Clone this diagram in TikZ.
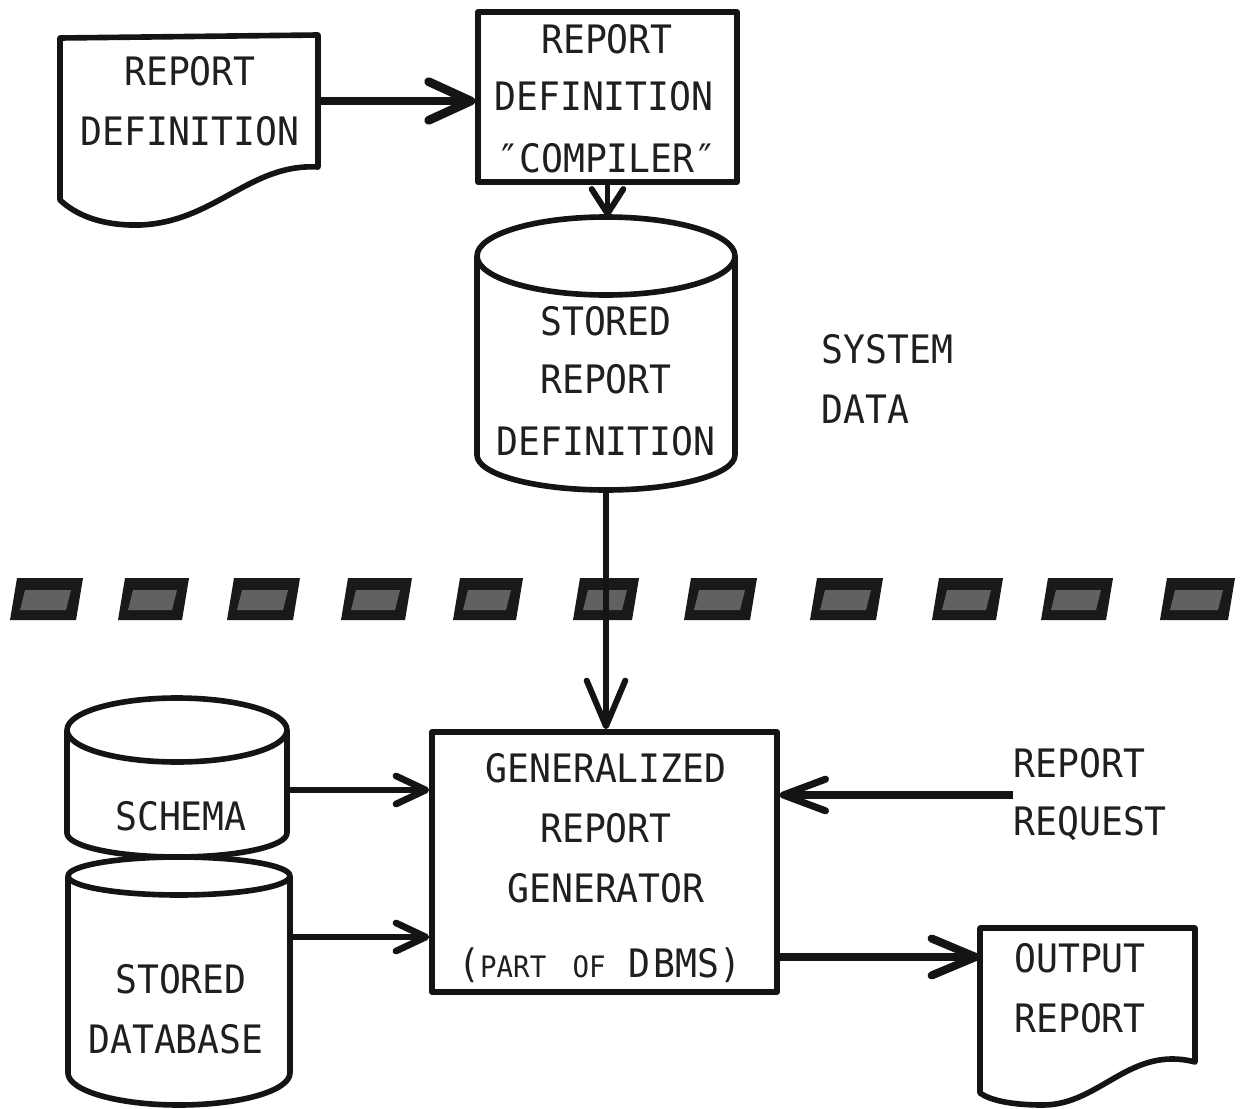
\documentclass[tikz,border=0pt]{standalone}
\usepackage{fontspec}
\usetikzlibrary{arrows.meta,fit}
\newfontfamily\twfont{DejaVu Sans Mono}[FakeStretch=0.93]
\newcommand\lblfont{\twfont\fontsize{22.3pt}{33pt}\selectfont}
\newcommand\smfont{\twfont\fontsize{16.8pt}{20pt}\selectfont}
\begin{document}
\begin{tikzpicture}[x=0.02cm,y=-0.02cm,
  shp/.style={line width=3.2pt, line join=round, draw=black!92},
  lbl/.style={font=\lblfont, text=black!88, inner sep=0, anchor=base},
  lblw/.style={font=\lblfont, text=black!88, inner sep=0, anchor=base west},
  box/.style={inner sep=0},
  conn/.style={draw=black!92, line width=#1},
  dashblk/.style={fill=black!90},
  dashin/.style={fill=black!62}
]
\useasboundingbox (0,0) rectangle (1252,1109);
\fill[white] (0,0) rectangle (1252,1109);

% report definition (document)
\draw[shp] (60,200) -- (60,38) -- (318,35) -- (318,167)
  .. controls (250,163) and (215,222) .. (140,225)
  .. controls (100,226) and (75,214) .. (60,200) -- cycle;
\node[box, fit={(60,35) (318,167)}] (rd) {};
\node[lbl] (rdA) at (190,85) {REPORT};
\node[lbl] (rdB) at (190,145) {DEFINITION};

% compiler box
\node[shp, draw, fit={(478,12) (737,182)}, inner sep=0] (comp) {};
\node[lbl] (compA) at (607,53) {REPORT};
\node[lbl] (compB) at (604,110) {DEFINITION};
\node[lbl] (compC) at (607,172) {″COMPILER″};

% stored report definition (cylinder)
\draw[shp] (606,256) ellipse [x radius=2.58cm, y radius=0.78cm];
\draw[shp] (477,256) -- (477,455) arc [start angle=180, end angle=360, x radius=2.58cm, y radius=0.70cm] -- (735,256);
\node[box, fit={(477,217) (735,490)}] (srd) {};
\node[lbl] (srdA) at (606,335) {STORED};
\node[lbl] (srdB) at (606,393) {REPORT};
\node[lbl] (srdC) at (606,455) {DEFINITION};

% system data
\node[lblw] (sysA) at (821,363) {SYSTEM};
\node[lblw] (sysB) at (821,423) {DATA};

% thick dashed separator
\foreach \a/\b in {10/76,118/182,227/293,341/405,453/516,573/632,684/750,810/876,932/996,1041/1106,1160/1228}{
  \fill[dashblk] (\a,620) -- (\b,620) -- (\b+7,578) -- (\a+7,578) -- cycle;
  \fill[dashin] (\a+10,610) -- (\b-10,610) -- (\b-5,590) -- (\a+15,590) -- cycle;
}

% generalized report generator
\node[shp, draw, fit={(432,732) (777,992)}, inner sep=0] (gen) {};
\node[lbl] (genA) at (606,782) {GENERALIZED};
\node[lbl] (genB) at (606,842) {REPORT};
\node[lbl] (genC) at (606,902) {GENERATOR};
\node[lbl] (genD) at (600,977) {({\smfont PART}\hspace{15pt}{\smfont OF}\hspace{13pt}D\hspace{2pt}BMS)};

% schema (cylinder)
\draw[shp] (177,730) ellipse [x radius=2.2cm, y radius=0.64cm];
\draw[shp] (67,730) -- (67,833) arc [start angle=180, end angle=360, x radius=2.2cm, y radius=0.48cm] -- (287,730);
\node[box, fit={(67,698) (287,857)}] (schema) {};
\node[lbl] (schA) at (181,830) {SCHEMA};

% stored database (cylinder)
\draw[shp] (179,876) ellipse [x radius=2.22cm, y radius=0.38cm];
\draw[shp] (68,876) -- (68,1073) arc [start angle=180, end angle=360, x radius=2.22cm, y radius=0.64cm] -- (290,876);
\node[box, fit={(68,857) (290,1105)}] (db) {};
\node[lbl] (dbA) at (181,993) {STORED};
\node[lbl] (dbB) at (176,1053) {DATABASE};

% report request
\node[font=\lblfont, text=black!88, align=left, anchor=west, inner sep=0] (req) at (1013,795) {REPORT\\REQUEST};

% output report (document)
\draw[shp] (980,1093) -- (980,928) -- (1195,928) -- (1195,1062)
  .. controls (1130,1045) and (1100,1105) .. (1043,1105)
  .. controls (1010,1105) and (990,1100) .. (980,1093) -- cycle;
\node[box, fit={(980,928) (1195,1062)}] (out) {};
\node[lbl] (outA) at (1080,972) {OUTPUT};
\node[lbl] (outB) at (1080,1032) {REPORT};

% connectors
\draw[conn=5pt, -{Straight Barb[length=24pt,width=22pt,round]}] (rd.east) -- (rd.east -| comp.west);
\draw[conn=3.4pt, -{Straight Barb[length=14pt,width=18pt,round]}] (comp.south) -- (comp.south |- srd.north);
\draw[conn=3.4pt, -{Straight Barb[length=26pt,width=22pt,round]}] (srd.south) -- (srd.south |- gen.north);
\draw[conn=3.8pt, -{Straight Barb[length=17pt,width=16pt,round]}] ([yshift=-0.25cm]schema.east) -- ([yshift=-0.25cm]schema.east -| gen.west);
\draw[conn=3.8pt, -{Straight Barb[length=17pt,width=16pt,round]}] ([yshift=0.88cm]db.east) -- ([yshift=0.88cm]db.east -| gen.west);
\draw[conn=4pt, -{Straight Barb[length=24pt,width=18pt,round]}] (req.west) -- (req.west -| gen.east);
\draw[conn=4.6pt, -{Straight Barb[length=25pt,width=21pt,round]}] ([yshift=-1.9cm]gen.east) -- ([yshift=-1.9cm]gen.east -| out.west);
\end{tikzpicture}
\end{document}
